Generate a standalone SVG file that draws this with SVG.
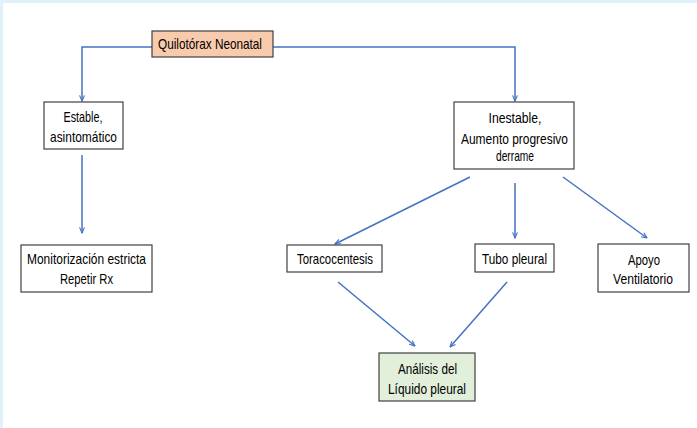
<svg xmlns="http://www.w3.org/2000/svg" width="697" height="428" viewBox="0 0 697 428">
  <style>
    .box { fill: #ffffff; stroke: #404040; stroke-width: 1.2; }
    .root { fill: #f8cbad; }
    .result { fill: #e2efda; }
    .lbl { font-family: "Liberation Sans", Arial, sans-serif; font-size: 14.5px; fill: #000000; text-anchor: middle; }
    .conn { fill: none; stroke: #4472c4; stroke-width: 1.5; }
  </style>
  <defs>
    <marker id="arrow" viewBox="0 0 10 10" refX="9" refY="5" markerWidth="7" markerHeight="7" orient="auto-start-reverse" markerUnits="userSpaceOnUse">
      <path d="M1,1.5 L9,5 L1,8.5" fill="none" stroke="#4472c4" stroke-width="1.6"/>
    </marker>
  </defs>

  <!-- page frame -->
  <rect x="0" y="0" width="697" height="428" fill="#dff1fb"/>
  <rect x="3" y="3" width="694" height="425" fill="#ffffff"/>

  <g id="connectors">
    <polyline class="conn" points="152,47 82,47 82,101" marker-end="url(#arrow)"/>
    <polyline class="conn" points="273,47 515,47 515,101" marker-end="url(#arrow)"/>
    <line class="conn" x1="82" y1="155" x2="82" y2="233" marker-end="url(#arrow)"/>
    <line class="conn" x1="470" y1="177" x2="335" y2="244" marker-end="url(#arrow)"/>
    <line class="conn" x1="515" y1="183" x2="515" y2="238" marker-end="url(#arrow)"/>
    <line class="conn" x1="563" y1="177" x2="647" y2="238" marker-end="url(#arrow)"/>
    <line class="conn" x1="338" y1="282" x2="415" y2="346" marker-end="url(#arrow)"/>
    <line class="conn" x1="507" y1="282" x2="450" y2="347" marker-end="url(#arrow)"/>
  </g>

  <g id="quilotorax">
    <rect class="box root" x="152" y="31" width="121" height="26"/>
    <text class="lbl" x="210" y="49" textLength="104" lengthAdjust="spacingAndGlyphs">Quilotórax Neonatal</text>
  </g>

  <g id="estable">
    <rect class="box" x="44" y="102" width="79" height="47"/>
    <text class="lbl" x="83" y="122" textLength="39" lengthAdjust="spacingAndGlyphs">Estable,</text>
    <text class="lbl" x="83.5" y="142" textLength="67" lengthAdjust="spacingAndGlyphs">asintomático</text>
  </g>

  <g id="inestable">
    <rect class="box" x="454" y="102" width="120" height="67"/>
    <text class="lbl" x="515" y="123" textLength="53" lengthAdjust="spacingAndGlyphs">Inestable,</text>
    <text class="lbl" x="514.5" y="143.5" textLength="107" lengthAdjust="spacingAndGlyphs">Aumento progresivo</text>
    <text class="lbl" x="515" y="161" textLength="38" lengthAdjust="spacingAndGlyphs">derrame</text>
  </g>

  <g id="monitorizacion">
    <rect class="box" x="21" y="245" width="131" height="47"/>
    <text class="lbl" x="86.5" y="264" textLength="119" lengthAdjust="spacingAndGlyphs">Monitorización estricta</text>
    <text class="lbl" x="86.5" y="284" textLength="53" lengthAdjust="spacingAndGlyphs">Repetir Rx</text>
  </g>

  <g id="toracocentesis">
    <rect class="box" x="287" y="245" width="95" height="27"/>
    <text class="lbl" x="335" y="264" textLength="76" lengthAdjust="spacingAndGlyphs">Toracocentesis</text>
  </g>

  <g id="tubo-pleural">
    <rect class="box" x="475" y="244" width="79" height="28"/>
    <text class="lbl" x="514.5" y="264" textLength="65" lengthAdjust="spacingAndGlyphs">Tubo pleural</text>
  </g>

  <g id="apoyo-ventilatorio">
    <rect class="box" x="598" y="244" width="91" height="48"/>
    <text class="lbl" x="644" y="265" textLength="32" lengthAdjust="spacingAndGlyphs">Apoyo</text>
    <text class="lbl" x="643" y="284" textLength="60" lengthAdjust="spacingAndGlyphs">Ventilatorio</text>
  </g>

  <g id="analisis">
    <rect class="box result" x="379" y="353" width="96" height="48"/>
    <text class="lbl" x="427.5" y="374" textLength="59" lengthAdjust="spacingAndGlyphs">Análisis del</text>
    <text class="lbl" x="427" y="394" textLength="78" lengthAdjust="spacingAndGlyphs">Líquido pleural</text>
  </g>
</svg>
